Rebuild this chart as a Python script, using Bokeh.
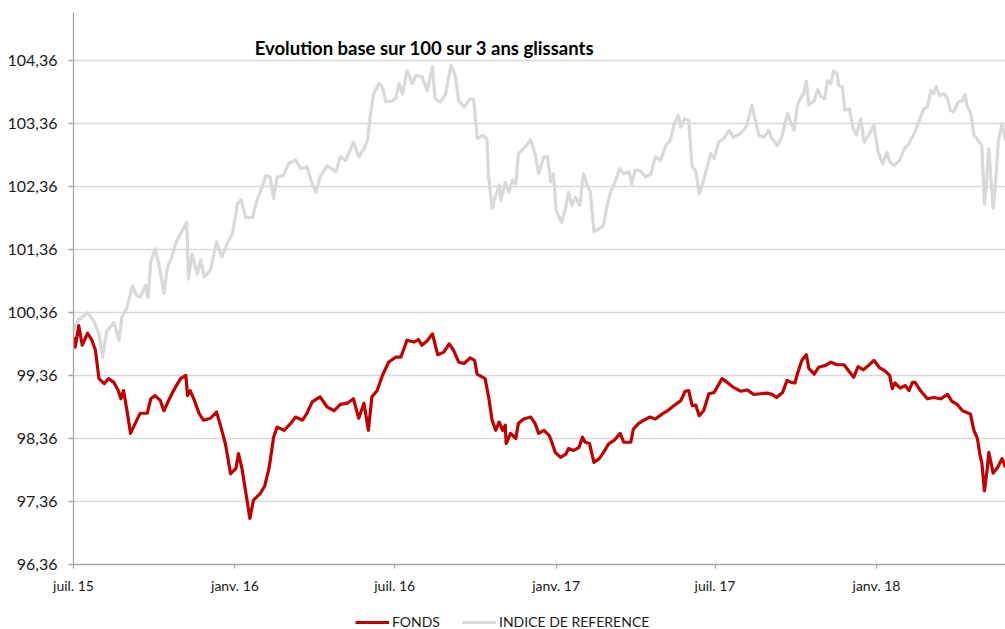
import numpy as np
import pandas as pd
from bokeh.plotting import figure
from bokeh.layouts import column
from bokeh.models import (ColumnDataSource, FixedTicker, Range1d, Label, Legend, LegendItem)
from bokeh.embed import file_html
from bokeh.resources import INLINE

# ---- data (day offsets from 1 July 2015) ----
start_date = "2015-07-01"

fonds_days = [0, 2, 6, 10, 16, 21, 25, 29, 35, 40, 46, 51, 54, 57, 61, 65, 71, 76, 84, 88,
              93, 99, 103, 111, 116, 122, 128, 130, 133, 137, 143, 148, 156, 163, 168, 173, 179, 185, 188, 192,
              196, 201, 205, 213, 218, 223, 228, 232, 240, 247, 253, 261, 266, 272, 281, 289, 297, 304, 312, 319,
              325, 331, 336, 340, 346, 352, 359, 367, 373, 380, 388, 393, 397, 403, 409, 415, 422, 428, 433, 439,
              445, 452, 457, 460, 469, 473, 477, 481, 485, 489, 492, 493, 498, 504, 507, 513, 521, 526, 530, 536,
              542, 545, 549, 555, 561, 564, 570, 576, 580, 583, 588, 593, 599, 604, 610, 616, 623, 627, 635, 638,
              644, 650, 657, 663, 671, 677, 684, 692, 697, 701, 705, 709, 713, 718, 724, 730, 739, 745, 752, 760,
              768, 775, 783, 790, 796, 801, 808, 813, 818, 822, 825, 830, 835, 838, 844, 849, 857, 863, 870, 878,
              883, 889, 894, 900, 906, 912, 918, 925, 930, 933, 936, 942, 948, 952, 956, 959, 965, 973, 980, 988,
              996, 1001, 1007, 1013, 1022, 1026, 1030, 1033, 1035, 1038, 1041, 1043, 1048, 1053, 1058, 1062]
fonds_values = [99.97, 99.81, 100.15, 99.84, 100.03, 99.92, 99.76, 99.31, 99.23, 99.31, 99.25, 99.12, 98.99, 99.12, 98.80, 98.44, 98.62, 98.76, 98.76, 98.99,
                99.04, 98.96, 98.80, 99.04, 99.17, 99.31, 99.36, 99.04, 99.12, 98.99, 98.76, 98.65, 98.68, 98.78, 98.54, 98.28, 97.80, 97.88, 98.12, 97.88,
                97.53, 97.09, 97.38, 97.49, 97.61, 97.90, 98.38, 98.54, 98.49, 98.59, 98.70, 98.65, 98.76, 98.94, 99.02, 98.86, 98.80, 98.90, 98.92, 98.99,
                98.68, 98.92, 98.49, 99.02, 99.12, 99.36, 99.57, 99.65, 99.65, 99.92, 99.89, 99.93, 99.84, 99.91, 100.02, 99.69, 99.73, 99.86, 99.76, 99.57,
                99.55, 99.64, 99.60, 99.38, 99.31, 99.02, 98.65, 98.49, 98.62, 98.49, 98.57, 98.28, 98.44, 98.36, 98.60, 98.67, 98.70, 98.60, 98.44, 98.49,
                98.41, 98.30, 98.14, 98.06, 98.11, 98.20, 98.17, 98.22, 98.38, 98.30, 98.28, 97.98, 98.04, 98.14, 98.28, 98.33, 98.44, 98.30, 98.30, 98.51,
                98.60, 98.65, 98.70, 98.67, 98.75, 98.80, 98.88, 98.96, 99.11, 99.12, 98.88, 98.89, 98.72, 98.80, 99.07, 99.09, 99.31, 99.25, 99.17, 99.11,
                99.13, 99.06, 99.07, 99.08, 99.06, 99.01, 99.09, 99.28, 99.25, 99.24, 99.39, 99.60, 99.69, 99.47, 99.38, 99.49, 99.52, 99.57, 99.53, 99.53,
                99.44, 99.33, 99.50, 99.45, 99.52, 99.60, 99.49, 99.43, 99.36, 99.15, 99.24, 99.16, 99.20, 99.12, 99.25, 99.25, 99.12, 98.99, 99.01, 98.99,
                99.06, 98.95, 98.90, 98.80, 98.75, 98.49, 98.36, 98.09, 97.98, 97.53, 97.85, 98.14, 97.81, 97.90, 98.04, 97.90]

indice_days = [0, 6, 8, 16, 21, 23, 29, 33, 38, 46, 52, 55, 61, 67, 72, 76, 82, 85, 88, 93,
               98, 103, 107, 112, 117, 124, 129, 131, 135, 141, 145, 149, 156, 163, 169, 175, 181, 187, 191, 196,
               204, 209, 215, 219, 224, 228, 232, 239, 245, 253, 259, 266, 272, 276, 281, 289, 294, 299, 304, 310,
               315, 319, 325, 331, 335, 338, 342, 348, 352, 356, 363, 367, 371, 375, 380, 386, 390, 397, 403, 409,
               412, 418, 424, 430, 435, 439, 445, 452, 456, 460, 466, 471, 473, 477, 481, 485, 487, 492, 496, 500,
               504, 507, 513, 521, 526, 530, 536, 540, 544, 547, 550, 556, 561, 564, 568, 572, 577, 581, 586, 589,
               593, 599, 604, 608, 612, 618, 622, 627, 633, 636, 640, 646, 652, 658, 663, 669, 675, 680, 684, 689,
               692, 696, 701, 705, 709, 713, 718, 722, 726, 730, 735, 741, 747, 752, 760, 766, 769, 773, 777, 781,
               787, 792, 796, 802, 807, 811, 814, 817, 821, 825, 828, 832, 835, 838, 844, 848, 852, 856, 859, 863,
               866, 870, 872, 876, 879, 884, 888, 892, 897, 901, 907, 912, 917, 922, 927, 930, 935, 941, 947, 952,
               958, 963, 969, 973, 977, 980, 983, 987, 992, 996, 999, 1003, 1008, 1013, 1016, 1018, 1023, 1026, 1031, 1035,
               1038, 1040, 1043, 1045, 1048, 1050, 1054, 1058, 1062]
indice_values = [100.08, 100.26, 100.26, 100.36, 100.26, 100.23, 100.02, 99.65, 100.06, 100.20, 99.92, 100.28, 100.44, 100.78, 100.63, 100.60, 100.79, 100.60, 101.16, 101.37,
                 101.08, 100.66, 101.08, 101.24, 101.48, 101.66, 101.79, 100.89, 101.29, 100.97, 101.19, 100.92, 101.03, 101.48, 101.24, 101.45, 101.61, 102.09, 102.15, 101.87,
                 101.87, 102.14, 102.35, 102.53, 102.51, 102.17, 102.51, 102.53, 102.72, 102.78, 102.64, 102.67, 102.40, 102.27, 102.51, 102.69, 102.64, 102.59, 102.83, 102.77,
                 102.93, 103.06, 102.83, 102.96, 103.09, 103.46, 103.83, 103.99, 103.94, 103.70, 103.72, 103.75, 103.99, 103.83, 104.20, 103.99, 104.12, 104.10, 103.88, 104.26,
                 103.75, 103.70, 103.83, 104.28, 104.12, 103.72, 103.62, 103.75, 103.74, 103.12, 103.17, 103.12, 102.51, 102.01, 102.22, 102.38, 102.14, 102.43, 102.27, 102.46,
                 102.40, 102.88, 102.96, 103.10, 102.88, 102.56, 102.83, 102.83, 102.43, 102.56, 101.98, 101.79, 102.03, 102.27, 102.06, 102.19, 102.06, 102.56, 102.35, 102.27,
                 101.64, 101.69, 101.74, 102.06, 102.27, 102.46, 102.64, 102.56, 102.59, 102.40, 102.62, 102.61, 102.51, 102.56, 102.83, 102.77, 103.01, 103.09, 103.33, 103.49,
                 103.30, 103.43, 103.41, 102.67, 102.61, 102.24, 102.46, 102.67, 102.88, 102.80, 103.06, 103.12, 103.25, 103.14, 103.20, 103.30, 103.43, 103.65, 103.41, 103.17,
                 103.14, 103.25, 103.12, 103.01, 103.14, 103.38, 103.52, 103.38, 103.25, 103.65, 103.75, 103.83, 104.03, 103.65, 103.72, 103.90, 103.78, 103.75, 104.04, 103.99,
                 104.19, 104.15, 103.96, 103.94, 103.57, 103.59, 103.30, 103.17, 103.43, 103.06, 103.20, 103.33, 102.90, 102.72, 102.90, 102.75, 102.69, 102.77, 102.96, 103.04,
                 103.20, 103.38, 103.59, 103.62, 103.88, 103.83, 103.94, 103.80, 103.83, 103.75, 103.57, 103.54, 103.70, 103.72, 103.82, 103.65, 103.49, 103.17, 103.09, 103.01,
                 102.08, 102.35, 102.96, 102.56, 102.01, 102.30, 103.09, 103.36, 103.09]

x_tick_dates = ["2015-07-01", "2016-01-01", "2016-07-01", "2017-01-01", "2017-07-01", "2018-01-01"]
x_tick_labels = ["juil. 15", "janv. 16", "juil. 16", "janv. 17", "juil. 17", "janv. 18"]
y_ticks = [96.36, 97.36, 98.36, 99.36, 100.36, 101.36, 102.36, 103.36, 104.36]
y_tick_labels = ["96,36", "97,36", "98,36", "99,36", "100,36", "101,36", "102,36", "103,36", "104,36"]

series_names = ["FONDS", "INDICE DE REFERENCE"]
series_colors = ["#C00000", "#D9D9D9"]
title_text = "Evolution base sur 100 sur 3 ans glissants"

# ---- build ----
t0 = pd.Timestamp(start_date)
fonds_dates = t0 + pd.to_timedelta(fonds_days, unit="D")
indice_dates = t0 + pd.to_timedelta(indice_days, unit="D")

src_f = ColumnDataSource(dict(x=fonds_dates, y=fonds_values))
src_i = ColumnDataSource(dict(x=indice_dates, y=indice_values))

FONT = "Lato"
LW = 3.2

x_end = max(fonds_dates.max(), indice_dates.max())
p = figure(width=1005, height=600, x_axis_type="datetime",
           x_range=Range1d(t0, x_end), y_range=Range1d(96.36, 105.12),
           output_backend="svg", toolbar_location=None,
           min_border_left=73, min_border_right=0, min_border_top=12, min_border_bottom=36)
p.outline_line_color = None
p.background_fill_color = "white"
p.border_fill_color = "white"

p.line("x", "y", source=src_i, line_color=series_colors[1], line_width=LW, line_join="round")
p.line("x", "y", source=src_f, line_color=series_colors[0], line_width=LW, line_join="round")

# axes
tick_ms = [pd.Timestamp(d).value // 10**6 for d in x_tick_dates]
p.xaxis.ticker = FixedTicker(ticks=tick_ms)
p.xaxis.major_label_overrides = {ms: lab for ms, lab in zip(tick_ms, x_tick_labels)}
p.yaxis.ticker = FixedTicker(ticks=y_ticks)
p.yaxis.major_label_overrides = {v: lab for v, lab in zip(y_ticks, y_tick_labels)}

for ax in (p.xaxis[0], p.yaxis[0]):
    ax.axis_line_color = "#A6A6A6"
    ax.axis_line_width = 1.3
    ax.major_tick_line_color = "#A6A6A6"
    ax.major_tick_line_width = 1.3
    ax.minor_tick_line_color = None
    ax.major_tick_in = 0
    ax.major_label_text_font = FONT
    ax.major_label_text_color = "#1a1a1a"
p.xaxis.major_tick_out = 4
p.xaxis.major_label_standoff = 8
p.xaxis.major_label_text_font_size = "14px"
p.yaxis.major_tick_out = 5
p.yaxis.major_label_standoff = 11
p.yaxis.major_label_text_font_size = "16px"

p.xgrid.grid_line_color = None
p.ygrid.grid_line_color = "#D9D9D9"
p.ygrid.grid_line_width = 1.3

# title inside the plot area
p.add_layout(Label(x=351, y=517, x_units="screen", y_units="screen", text=title_text,
                   text_font=FONT, text_font_style="bold", text_font_size="18.5px",
                   text_align="center", text_baseline="middle", text_color="#000000"))

# ---- legend strip below the chart (its frame is aligned with the chart's frame) ----
leg = figure(width=1005, height=29, x_range=Range1d(0, 1), y_range=Range1d(0, 1),
             output_backend="svg", toolbar_location=None,
             x_axis_location=None, y_axis_location=None,
             min_border_left=0, min_border_right=0, min_border_top=0, min_border_bottom=0)
leg.outline_line_color = None
leg.xgrid.grid_line_color = None
leg.ygrid.grid_line_color = None
# legend-only renderers: a single missing (NaN) point, nothing is drawn in the strip
lr_f = leg.line(x=[np.nan], y=[np.nan], line_color=series_colors[0], line_width=LW)
lr_i = leg.line(x=[np.nan], y=[np.nan], line_color=series_colors[1], line_width=LW)
legend = Legend(items=[LegendItem(label=series_names[0], renderers=[lr_f]),
                       LegendItem(label=series_names[1], renderers=[lr_i])],
                location=(282, -1), orientation="horizontal",
                glyph_width=34, glyph_height=14, label_height=14, label_standoff=3, spacing=22,
                padding=0, margin=0, border_line_color=None, background_fill_alpha=0,
                label_text_font=FONT, label_text_font_size="14px", label_text_color="#1a1a1a")
leg.add_layout(legend, "center")

layout = column(p, leg, spacing=0)
open("out.html", "w").write(file_html(layout, INLINE))
